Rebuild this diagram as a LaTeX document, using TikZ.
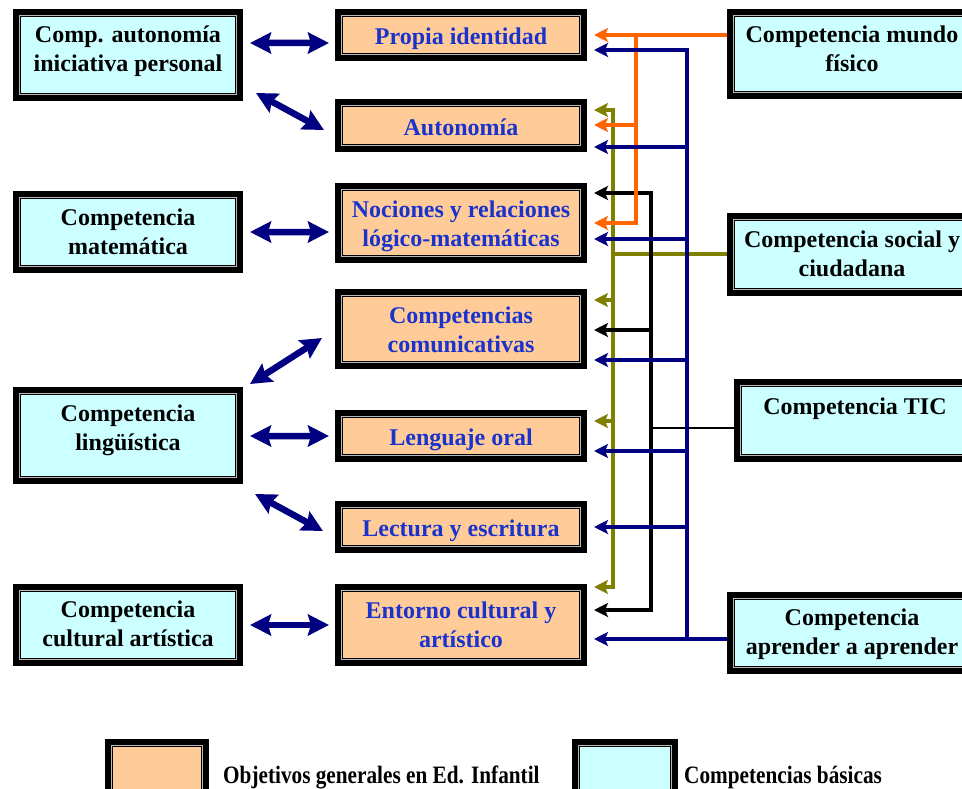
\documentclass[tikz,border=0pt]{standalone}
\usepackage{fontspec}
\setmainfont{Liberation Serif}
\newfontfamily\legfont[FakeStretch=0.85]{Liberation Serif}
\usetikzlibrary{arrows.meta}
\definecolor{cfill}{HTML}{CCFFFF}
\definecolor{ofill}{HTML}{FFCC99}
\definecolor{navyc}{HTML}{000080}
\definecolor{orangec}{HTML}{FF6600}
\definecolor{olivec}{HTML}{808000}
\definecolor{bluetxt}{HTML}{1A33CC}
\pgfdeclarelayer{back}
\pgfdeclarelayer{lines}
\pgfsetlayers{back,lines,main}
\newcommand\btxt[2]{\raisebox{#1}[0pt][0pt]{\begin{tabular}[t]{@{}c@{}}#2\end{tabular}}}
\tikzset{
  framebox/.style={rectangle, draw=black, line width=6bp, inner sep=0pt,
    font=\fontsize{24bp}{29bp}\selectfont\bfseries,
    path picture={
      \draw[gray!55, line width=0.8bp]
        ([xshift=3.5bp,yshift=-3.5bp]path picture bounding box.north west) rectangle
        ([xshift=-3.5bp,yshift=3.5bp]path picture bounding box.south east);
      \draw[black, line width=1bp]
        ([xshift=4.6bp,yshift=-4.6bp]path picture bounding box.north west) rectangle
        ([xshift=-4.6bp,yshift=4.6bp]path picture bounding box.south east);}},
  cbox/.style={framebox, fill=cfill, text=black, minimum width=224bp},
  obox/.style={framebox, fill=ofill, text=bluetxt, minimum width=246bp},
  rbox/.style={framebox, fill=cfill, text=black, minimum width=244bp},
  legbox/.style={framebox},
  legtext/.style={inner sep=0pt, anchor=base west, font=\legfont\fontsize{25bp}{30bp}\selectfont\bfseries},
  dblarrow/.style={navyc, line width=6.5bp,
    {Stealth[length=21bp,width=21bp,inset=3bp]}-{Stealth[length=21bp,width=21bp,inset=3bp]}},
  bustip/.style={-{Stealth[length=14bp,width=14bp,inset=3bp]}, shorten >=7bp},
  bustwo/.style={{Stealth[length=14bp,width=14bp,inset=3bp]}-{Stealth[length=14bp,width=14bp,inset=3bp]}, shorten >=7bp, shorten <=7bp},
  oliveline/.style={olivec, line width=3.3bp},
  blackline/.style={black, line width=3.3bp},
  ticline/.style={black, line width=2.8bp},
  orangeline/.style={orangec, line width=4bp},
  navyline/.style={navyc, line width=4.5bp},
}
\begin{document}
\begin{tikzpicture}[x=1bp,y=-1bp]
\path[use as bounding box] (0,0) rectangle (962,789);
\begin{pgfonlayer}{back}
\fill[white] (0,0) rectangle (962,789);
\end{pgfonlayer}
\clip (0,0) rectangle (962,789);

% left boxes (competencias)
\node[cbox, minimum height=86bp] (L1) at (128,55) {\btxt{12bp}{Comp. autonomía\\iniciativa personal}};
\node[cbox, minimum height=76bp] (L2) at (128,232) {\btxt{7bp}{Competencia\\matemática}};
\node[cbox, minimum height=91bp] (L3) at (128,435.5) {\btxt{13.8bp}{Competencia\\lingüística}};
\node[cbox, minimum height=76bp] (L4) at (128,625) {\btxt{7.3bp}{Competencia\\cultural artística}};

% middle boxes (objetivos)
\node[obox, minimum height=46bp] (M1) at (461,35) {\btxt{-9.3bp}{Propia identidad}};
\node[obox, minimum height=47bp] (M2) at (461,125.5) {\btxt{-9.5bp}{Autonomía}};
\node[obox, minimum height=74bp] (M3) at (461,223) {\btxt{5.7bp}{Nociones y relaciones\\lógico-matemáticas}};
\node[obox, minimum height=74bp] (M4) at (461,329) {\btxt{6bp}{Competencias\\comunicativas}};
\node[obox, minimum height=46bp] (M5) at (461,436) {\btxt{-9bp}{Lenguaje oral}};
\node[obox, minimum height=46bp] (M6) at (461,527) {\btxt{-9.7bp}{Lectura y escritura}};
\node[obox, minimum height=76bp] (M7) at (461,625) {\btxt{6.7bp}{Entorno cultural y\\artístico}};

% right boxes
\node[rbox, minimum height=84bp] (R1) at (852,54) {\btxt{11.3bp}{Competencia mundo\\físico}};
\node[rbox, minimum height=77bp] (R2) at (852,254.5) {\btxt{6.8bp}{Competencia social y\\ciudadana}};
\node[rbox, minimum width=236bp, minimum height=77bp] (R3) at (855,420.5) {\btxt{6.2bp}{Competencia TIC}};
\node[rbox, minimum height=76bp] (R4) at (852,633) {\btxt{8bp}{Competencia\\aprender a aprender}};

% legend
\node[legbox, fill=ofill, minimum width=98bp, minimum height=60bp] (LO) at (157,772) {};
\node[legtext] (LOt) at (223,783) {Objetivos generales en Ed. Infantil};
\node[legbox, fill=cfill, minimum width=100bp, minimum height=60bp] (LC) at (625,772) {};
\node[legtext] (LCt) at (684,783) {Competencias básicas};

% bus coordinates
\coordinate (oT) at (636,35);  \coordinate (oM) at (636,125); \coordinate (oB) at (636,223);
\coordinate (nT) at (687,50);  \coordinate (n2) at (687,147); \coordinate (n3) at (687,239);
\coordinate (n4) at (687,360); \coordinate (n5) at (687,451); \coordinate (n6) at (687,527);
\coordinate (nB) at (687,639);
\coordinate (kT) at (651,193); \coordinate (kM) at (651,330); \coordinate (kJ) at (651,428);
\coordinate (kB) at (651,610);
\coordinate (vT) at (613,110); \coordinate (vJ) at (613,254); \coordinate (v4) at (613,300);
\coordinate (v5) at (613,421); \coordinate (vB) at (613,587);

\begin{pgfonlayer}{lines}
% olive: social y ciudadana
\draw[oliveline, bustwo] (vT -| M2.east) -- (vT) -- (vB) -- (vB -| M7.east);
\draw[oliveline, bustip] (v4) -- (v4 -| M4.east);
\draw[oliveline, bustip] (v5) -- (v5 -| M5.east);
\draw[oliveline] (R2.west |- vJ) -- (vJ);
% black: TIC
\draw[blackline, bustwo] (kT -| M3.east) -- (kT) -- (kB) -- (kB -| M7.east);
\draw[blackline, bustip] (kM) -- (kM -| M4.east);
\draw[ticline] (R3.west |- kJ) -- (kJ);
% orange: mundo fisico
\draw[orangeline, bustip] (R1.west |- oT) -- (oT -| M1.east);
\draw[orangeline, bustip] (oT) -- (oB) -- (oB -| M3.east);
\draw[orangeline, bustip] (oM) -- (oM -| M2.east);
% navy: aprender a aprender
\draw[navyline, bustip] (R4.west |- nB) -- (nB -| M7.east);
\draw[navyline, bustip] (nB) -- (nT) -- (nT -| M1.east);
\draw[navyline, bustip] (n2) -- (n2 -| M2.east);
\draw[navyline, bustip] (n3) -- (n3 -| M3.east);
\draw[navyline, bustip] (n4) -- (n4 -| M4.east);
\draw[navyline, bustip] (n5) -- (n5 -| M5.east);
\draw[navyline, bustip] (n6) -- (n6 -| M6.east);
\end{pgfonlayer}

% double arrows
\draw[dblarrow] ([xshift=7bp,yshift=12bp]L1.east) -- ([xshift=-6bp,yshift=-8bp]M1.west);
\draw[dblarrow] ([xshift=13bp,yshift=8bp]L1.south east) -- ([xshift=-11bp,yshift=-4.5bp]M2.west);
\draw[dblarrow] ([xshift=7bp]L2.east) -- ([xshift=-6bp,yshift=-9bp]M3.west);
\draw[dblarrow] ([xshift=7bp,yshift=3bp]L3.north east) -- ([xshift=-13bp,yshift=-9bp]M4.west);
\draw[dblarrow] ([xshift=7bp,yshift=-0.5bp]L3.east) -- ([xshift=-6bp]M5.west);
\draw[dblarrow] ([xshift=12bp,yshift=-10bp]L3.south east) -- ([xshift=-12bp,yshift=-4bp]M6.west);
\draw[dblarrow] ([xshift=7bp]L4.east) -- ([xshift=-6bp]M7.west);
\end{tikzpicture}
\end{document}
